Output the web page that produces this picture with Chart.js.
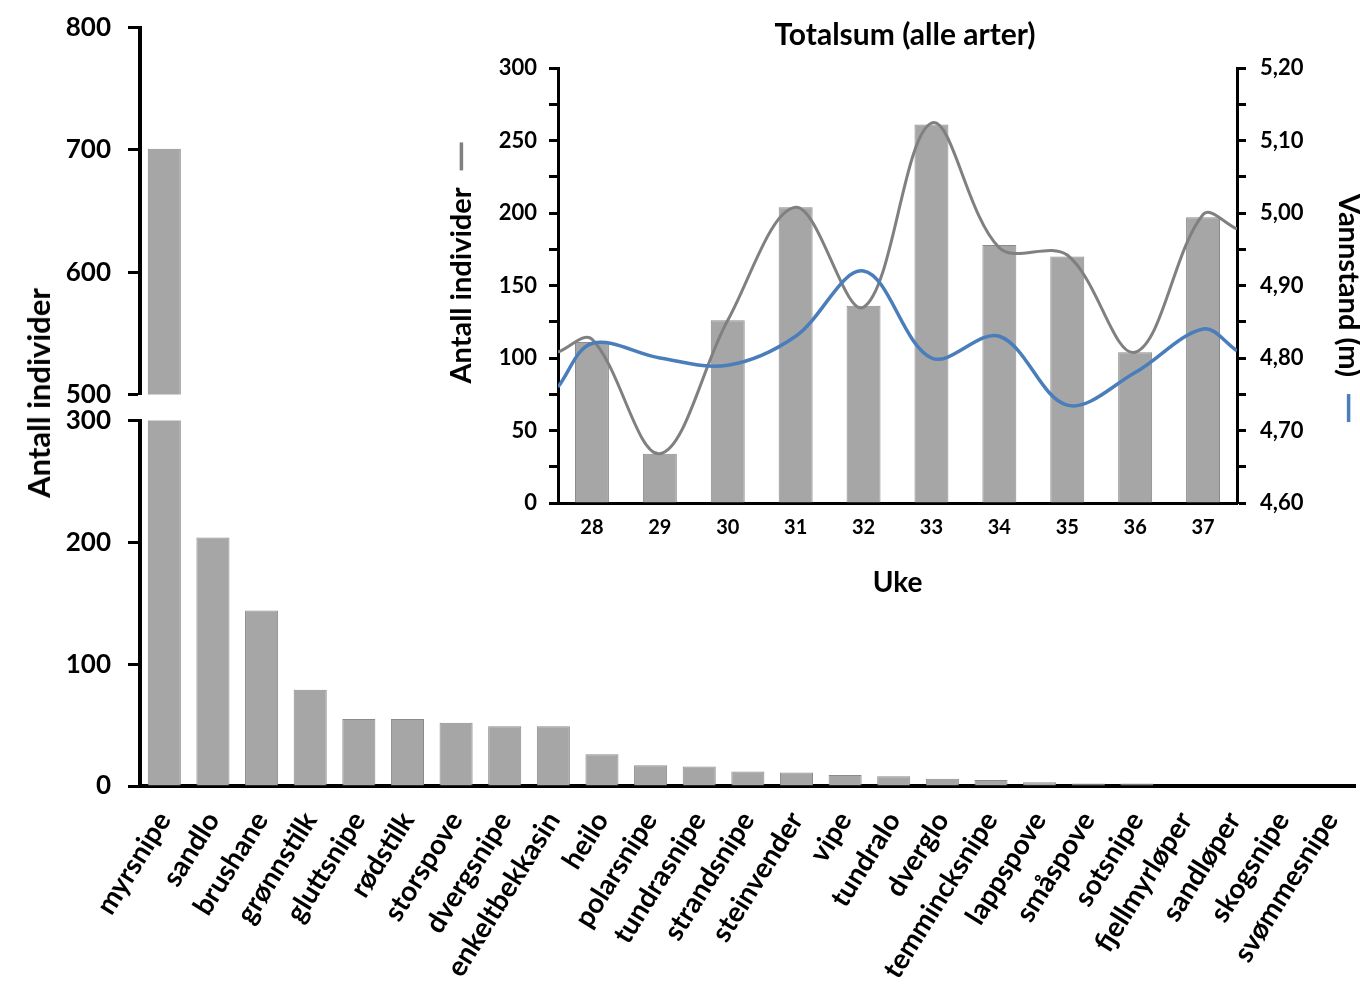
<!DOCTYPE html>
<html>
<head>
<meta charset="utf-8">
<script src="https://cdn.jsdelivr.net/npm/chart.js@4.4.1/dist/chart.umd.min.js"></script>
<style>
    html, body { margin: 0; padding: 0; background: #fff; overflow: hidden; }
    #page { position: relative; width: 1360px; height: 989px; overflow: hidden; }
    canvas { position: absolute; }
    #upper { left: 0; top: -5px; }
    #lower { left: 0; top: 388px; }
    #inset { left: 440px; top: 0; }
    #mainTitle {
        position: absolute; left: 38px; top: 393px;
        transform: translate(-50%, -50%) rotate(-90deg);
        font: bold 31px Lato, sans-serif; white-space: nowrap; color: #000;
    }
</style>
</head>
<body>
<div id="page">
    <canvas id="upper" width="1360" height="432"></canvas>
    <canvas id="lower" width="1380" height="601"></canvas>
    <canvas id="inset" width="930" height="610"></canvas>
    <div id="mainTitle">Antall individer</div>
</div>
<script>
// species totals (main chart)
const species = ["myrsnipe", "sandlo", "brushane", "grønnstilk", "gluttsnipe", "rødstilk", "storspove",
    "dvergsnipe", "enkeltbekkasin", "heilo", "polarsnipe", "tundrasnipe", "strandsnipe", "steinvender",
    "vipe", "tundralo", "dverglo", "temmincksnipe", "lappspove", "småspove", "sotsnipe", "fjellmyrløper",
    "sandløper", "skogsnipe", "svømmesnipe"];
const counts = [701, 204, 144, 79, 55, 55, 52, 49, 49, 26, 17, 16, 12, 11, 9, 8, 6, 5, 3, 2, 2, 0, 0, 0, 0];
const lowerTicks = [0, 300, 100];   // min, max, step
const upperTicks = [500, 800, 100];

// weekly totals (inset)
const weeks = ["28", "29", "30", "31", "32", "33", "34", "35", "36", "37"];
const weeklyTotals = [111, 34, 126, 204, 136, 261, 178, 170, 104, 197];
const lineWeeks = [27.5, 28, 29, 30, 31, 32, 33, 34, 35, 36, 37, 37.5];
const totalLine = [104, 113, 34, 126, 204, 135, 262, 176, 171, 104, 199, 189];
const waterLevel = [4.76, 4.82, 4.80, 4.79, 4.83, 4.92, 4.80, 4.83, 4.735, 4.78, 4.84, 4.81];
const countTicks = [0, 300, 25];
const levelTicks = [4.6, 5.2, 0.05];

const colors = {
    bar: "#a6a6a6",
    barEdge: "#8a8a8a",
    grey: "#808080",
    blue: "#4a7ebb",
    ink: "#000"
};

Chart.defaults.font.family = "Lato";
Chart.defaults.font.weight = "bold";
Chart.defaults.color = colors.ink;
Chart.defaults.animation = false;
Chart.defaults.plugins.legend.display = false;
Chart.defaults.plugins.tooltip.enabled = false;

function points(xs, ys) {
    return xs.map((x, i) => ({ x: x, y: ys[i] }));
}

function mainY(range, size) {
    return {
        min: range[0],
        max: range[1],
        ticks: { stepSize: range[2], padding: 17, font: { size: size } },
        grid: { drawOnChartArea: false, tickLength: 12, tickWidth: 3, tickColor: colors.ink },
        border: { width: 4, color: colors.ink },
        afterFit: scale => { scale.width = 140; }
    };
}

function barSet(data, skipped) {
    return {
        data: data,
        backgroundColor: colors.bar,
        borderColor: colors.barEdge,
        borderWidth: 1,
        borderSkipped: skipped,
        categoryPercentage: 1,
        barPercentage: 0.68
    };
}

// upper part of the broken axis: only values above its minimum
new Chart(document.getElementById("upper"), {
    type: "bar",
    data: {
        labels: species,
        datasets: [barSet(counts.map(v => v >= upperTicks[0] ? v : null), false)]
    },
    options: {
        responsive: false,
        layout: { padding: { top: 22, right: 5, bottom: 16, left: 0 } },
        scales: {
            x: { display: false },
            y: mainY(upperTicks, 26)
        }
    }
});

new Chart(document.getElementById("lower"), {
    type: "bar",
    data: { labels: species, datasets: [barSet(counts, "start")] },
    options: {
        responsive: false,
        layout: { padding: { top: 17, right: 5, bottom: 0, left: 0 } },
        scales: {
            x: {
                ticks: { autoSkip: false, minRotation: 58, maxRotation: 58, padding: 20, font: { size: 28 } },
                grid: { display: false, drawTicks: false },
                border: { width: 4, color: colors.ink },
                afterFit: scale => { scale.height = 203; }
            },
            y: mainY(lowerTicks, 26)
        }
    }
});

// small line key next to each inset axis title
const axisKeys = {
    id: "axisKeys",
    afterDraw(chart) {
        const ctx = chart.ctx;
        const area = chart.chartArea;
        const mid = (area.top + area.bottom) / 2;
        const keys = [["y", colors.grey, -1], ["y2", colors.blue, 1]];
        keys.forEach(([id, color, dir]) => {
            const scale = chart.scales[id];
            const title = scale.options.title;
            const font = Chart.helpers.toFont(title.font);
            ctx.save();
            ctx.font = font.string;
            const half = ctx.measureText(title.text).width / 2;
            const off = font.lineHeight / 2 + title.padding.top;
            const x = dir < 0 ? scale.left + off : scale.right - off;
            const y0 = mid + dir * (half + 17);
            ctx.strokeStyle = color;
            ctx.lineWidth = 3.5;
            ctx.beginPath();
            ctx.moveTo(x, y0);
            ctx.lineTo(x, y0 + dir * 28);
            ctx.stroke();
            ctx.restore();
        });
    }
};

function insetY(range, position, width, title, padding, label) {
    return {
        position: position,
        min: range[0],
        max: range[1],
        ticks: { stepSize: range[2], padding: padding, font: { size: 22 }, callback: label },
        grid: { drawOnChartArea: false, tickLength: 9, tickWidth: 3, tickColor: colors.ink },
        border: { width: 3, color: colors.ink },
        title: { display: true, text: title, font: { size: 29 }, padding: { top: 4, bottom: 0 } },
        afterFit: scale => { scale.width = width; }
    };
}

new Chart(document.getElementById("inset"), {
    type: "bar",
    data: {
        labels: weeks,
        datasets: [
            {
                data: weeklyTotals,
                xAxisID: "x",
                yAxisID: "y",
                backgroundColor: colors.bar,
                borderColor: colors.barEdge,
                borderWidth: 1,
                grouped: false,
                categoryPercentage: 1,
                barPercentage: 0.5,
                order: 2
            },
            {
                type: "line",
                data: points(lineWeeks, totalLine),
                xAxisID: "xl",
                yAxisID: "y",
                borderColor: colors.grey,
                borderWidth: 3,
                pointRadius: 0,
                tension: 0.35,
                order: 1
            },
            {
                type: "line",
                data: points(lineWeeks, waterLevel),
                xAxisID: "xl",
                yAxisID: "y2",
                borderColor: colors.blue,
                borderWidth: 3.5,
                pointRadius: 0,
                tension: 0.35,
                order: 0
            }
        ]
    },
    options: {
        responsive: false,
        layout: { padding: 0 },
        plugins: {
            title: {
                display: true,
                text: "Totalsum (alle arter)",
                font: { size: 30 },
                color: colors.ink,
                padding: { top: 17, bottom: 15 }
            }
        },
        scales: {
            x: {
                ticks: { padding: 13, font: { size: 20 } },
                grid: { display: false, drawTicks: false },
                border: { width: 3, color: colors.ink },
                title: { display: true, text: "Uke", font: { size: 28 }, padding: { top: 0, bottom: 10 } },
                afterFit: scale => { scale.height = 107; }
            },
            xl: {
                type: "linear",
                display: false,
                offset: false,
                min: lineWeeks[0],
                max: lineWeeks[lineWeeks.length - 1]
            },
            y: insetY(countTicks, "left", 118, "Antall individer", 12,
                v => v % 50 === 0 ? v : ""),
            y2: insetY(levelTicks, "right", 133, "Vannstand (m)", 14,
                v => Math.round(v * 100) % 10 === 0 ? v.toFixed(2).replace(".", ",") : "")
        }
    },
    plugins: [axisKeys]
});
</script>
</body>
</html>
